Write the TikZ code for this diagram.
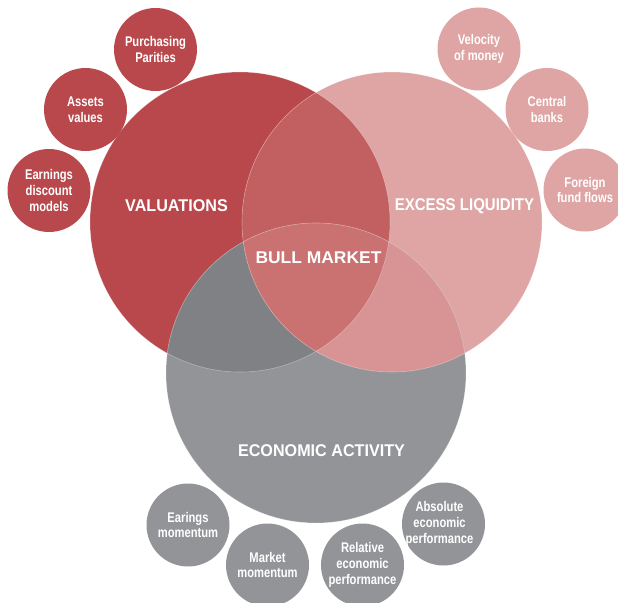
\documentclass[tikz,border=0pt]{standalone}
\usepackage{fontspec}
\setmainfont{Liberation Sans}
\newfontfamily\bigf{Liberation Sans Bold}[FakeStretch=0.95]
\newfontfamily\smf{Liberation Sans Bold}[FakeStretch=0.8]
\definecolor{valc}{HTML}{B8484C}
\definecolor{liqc}{HTML}{DEA5A4}
\definecolor{ecoc}{HTML}{939497}
\definecolor{vlc}{HTML}{C25F60}
\definecolor{vec}{HTML}{808185}
\definecolor{lec}{HTML}{D89394}
\definecolor{allc}{HTML}{C97271}
\tikzset{
  smallc/.style={circle, minimum size=83pt, inner sep=0pt, align=center, text=white,
    font=\smf\fontsize{14}{15.7}\selectfont},
  biglabel/.style={text=white, font=\bigf\fontsize{17}{19}\selectfont, inner sep=0pt},
  rim/.style={draw=white, draw opacity=0.35, line width=0.6pt}
}
\begin{document}
\begin{tikzpicture}[x=1pt,y=-1pt]
\useasboundingbox (0,0) rectangle (618,602);
\coordinate (V) at (240,222);
\coordinate (L) at (392,222);
\coordinate (E) at (316,373);
% base circles
\fill[valc] (V) circle[radius=150pt];
\fill[liqc] (L) circle[radius=150pt];
\fill[ecoc] (E) circle[radius=150pt];
% pairwise overlaps
\begin{scope}
  \clip (V) circle[radius=150pt];
  \fill[vlc] (L) circle[radius=150pt];
  \fill[vec] (E) circle[radius=150pt];
\end{scope}
\begin{scope}
  \clip (L) circle[radius=150pt];
  \fill[lec] (E) circle[radius=150pt];
\end{scope}
\begin{scope}
  \clip (V) circle[radius=150pt];
  \clip (L) circle[radius=150pt];
  \fill[allc] (E) circle[radius=150pt];
\end{scope}
\draw[rim] (V) circle[radius=150pt];
\draw[rim] (L) circle[radius=150pt];
\draw[rim] (E) circle[radius=150pt];
% big labels
\node[biglabel] (valt) at (176.5,206) {VALUATIONS};
\node[biglabel] (liqt) at (464.5,206) {\scalebox{0.93}[1]{EXCESS LIQUIDITY}};
\node[biglabel] (bullt) at (318.5,258) {\scalebox{1.08}[1]{BULL MARKET}};
\node[biglabel] (ecot) at (321.5,451) {ECONOMIC ACTIVITY};
% valuation satellites
\node[smallc, fill=valc] (pp) at (155.5,49.5) {Purchasing\\Parities};
\node[smallc, fill=valc] (av) at (85.5,109.5) {Assets\\values};
\node[smallc, fill=valc] (ed) at (49,190.5) {Earnings\\discount\\models};
% liquidity satellites
\node[smallc, fill=liqc] (vm) at (479,49) {Velocity\\of money};
\node[smallc, fill=liqc] (cb) at (547,109.5) {Central\\banks};
\node[smallc, fill=liqc] (ff) at (585,190) {Foreign\\fund flows};
% economic satellites
\node[smallc, fill=ecoc] (em) at (188,525) {Earings\\momentum};
\node[smallc, fill=ecoc] (mm) at (267.5,565) {Market\\momentum};
\node[smallc, fill=ecoc] (rp) at (362.5,565) {Relative\\economic\\performance};
\node[smallc, fill=ecoc] (ap) at (443.5,524) {\hspace*{-8pt}Absolute\\\hspace*{-8pt}economic\\\hspace*{-8pt}performance};
\end{tikzpicture}
\end{document}
